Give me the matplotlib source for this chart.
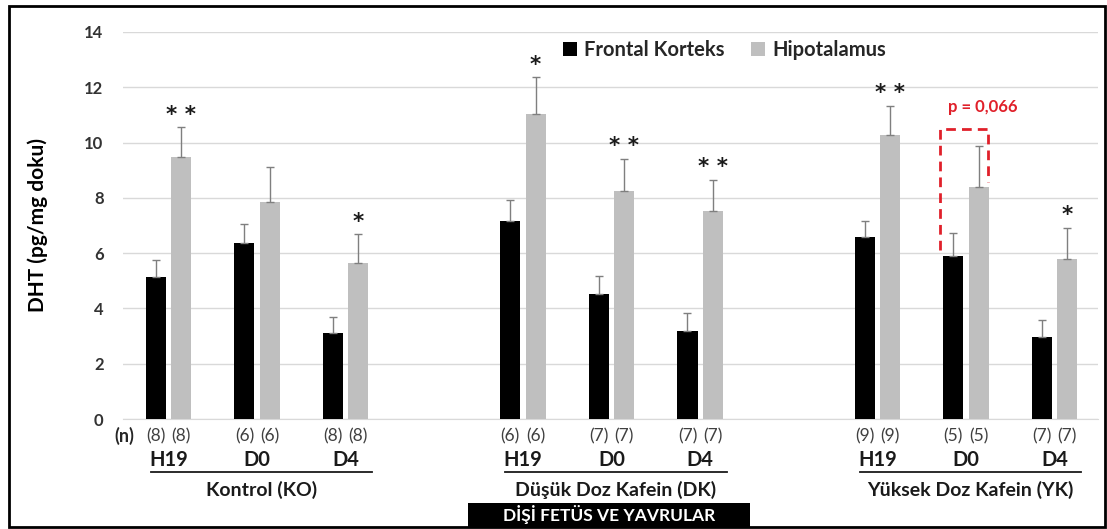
import matplotlib
matplotlib.use("Agg")
import matplotlib.pyplot as plt
from matplotlib.patches import Rectangle
from matplotlib.lines import Line2D
from matplotlib.transforms import blended_transform_factory
import numpy as np

plt.rcParams['font.family'] = ['Lato', 'DejaVu Sans']

# ---- data ----
groups = ["Kontrol (KO)", "Düşük Doz Kafein (DK)", "Yüksek Doz Kafein (YK)"]
days = ["H19", "D0", "D4"]
series_names = ["Frontal Korteks", "Hipotalamus"]

frontal_mean = [5.15, 6.36, 3.11, 7.17, 4.52, 3.18, 6.60, 5.90, 2.96]
frontal_err = [0.62, 0.68, 0.59, 0.75, 0.65, 0.65, 0.56, 0.84, 0.63]
hipo_mean = [9.49, 7.85, 5.63, 11.02, 8.26, 7.51, 10.29, 8.38, 5.80]
hipo_err = [1.07, 1.25, 1.05, 1.34, 1.15, 1.14, 1.04, 1.50, 1.12]
n_counts = [8, 6, 8, 6, 7, 7, 9, 5, 7]
stars = ["* *", "", "*", "*", "* *", "* *", "* *", "", "*"]

BLACK = "#000000"
GRAY = "#bfbfbf"
ERR = "#7f7f7f"
TXT = "#404040"
RED = "#e0202a"

W, H = 1107, 529
fig = plt.figure(figsize=(W / 100, H / 100), dpi=100)
ax = fig.add_axes([123 / W, 1 - 419 / H, (1098 - 123) / W, (419 - 32) / H])

# one empty slot between the treatment groups
pos = np.array([g * 4 + d for g in range(3) for d in range(3)], dtype=float)
bw = 0.226
off = 0.143

ax.bar(pos - off, frontal_mean, bw, color=BLACK, zorder=3, label=series_names[0])
ax.bar(pos + off, hipo_mean, bw, color=GRAY, zorder=3, label=series_names[1])
ax.errorbar(pos - off, frontal_mean, yerr=[np.zeros(9), frontal_err], fmt="none",
            ecolor=ERR, elinewidth=1, capsize=3.2, capthick=1, zorder=4)
ax.errorbar(pos + off, hipo_mean, yerr=[np.zeros(9), hipo_err], fmt="none",
            ecolor=ERR, elinewidth=1, capsize=3.2, capthick=1, zorder=4)

# significance marks above Hipotalamus bars
for x, m, e, s in zip(pos + off, hipo_mean, hipo_err, stars):
    if s:
        ax.text(x, m + e + 0.45, s, ha="center", va="center", fontsize=15.5,
                fontweight="bold", color="#1a1a1a", zorder=5,
                family="DejaVu Sans")

ax.set_xlim(-0.514, 10.49)
ax.set_ylim(0, 14)
ax.set_yticks(range(0, 15, 2))
ax.set_xticks([])
ax.grid(axis="y", color="#d9d9d9", linewidth=1, zorder=0)
ax.set_axisbelow(True)
for sp in ["top", "right", "left"]:
    ax.spines[sp].set_visible(False)
ax.spines["bottom"].set_color("#d9d9d9")
ax.tick_params(axis="y", length=0, pad=14, labelsize=12, labelcolor="#333333")
for lab in ax.get_yticklabels():
    lab.set_fontweight("bold")
ax.set_ylabel("DHT (pg/mg doku)", fontsize=15, fontweight="bold", labelpad=26)

# legend
leg = ax.legend(loc="upper left", bbox_to_anchor=(0.433, 1.025), ncol=2, frameon=False,
                handlelength=0.7, handleheight=0.7, handletextpad=0.35, columnspacing=1.3,
                prop={"size": 14.5, "weight": "bold"})
for t in leg.get_texts():
    t.set_color("#262626")

# p-value annotation around the YK D0 pair
bx = [8.708, 8.708, 9.25, 9.25]
by = [6.11, 10.49, 10.49, 8.57]
ax.plot(bx, by, color=RED, lw=2, ls=(0, (3.5, 2.2)), zorder=6, solid_capstyle="butt")
ax.text(9.19, 11.3, "p = 0,066", color=RED, fontsize=12, fontweight="bold",
        ha="center", va="center")

# labels under the axis
tr = blended_transform_factory(ax.transData, fig.transFigure)
fy = lambda ypix: 1 - ypix / H
fig.text(124 / W, fy(436), "(n)", ha="center", va="center", fontsize=13,
         fontweight="bold", color="#262626")
for i, x in enumerate(pos):
    for dx in (-off, off):
        fig.text(x + dx, fy(436), f"({n_counts[i]})", transform=tr, ha="center",
                 va="center", fontsize=12.5, color=TXT)
    fig.text(x, fy(460), days[i % 3], transform=tr, ha="center", va="center",
             fontsize=14.5, fontweight="bold", color="#1a1a1a")

for g, name in enumerate(groups):
    x0, x1 = pos[g * 3] - 0.2, pos[g * 3 + 2] + 0.3
    fig.add_artist(Line2D([x0, x1], [fy(472), fy(472)], transform=tr,
                          color="#1a1a1a", lw=1.3))
    fig.text((x0 + x1) / 2, fy(490), name, transform=tr, ha="center", va="center",
             fontsize=14, fontweight="bold", color="#1a1a1a")

# title bar at the bottom
fig.add_artist(Rectangle((468 / W, fy(527)), (750 - 468) / W, (527 - 503) / H,
                         transform=fig.transFigure, facecolor="black", edgecolor="none"))
fig.text(609 / W, fy(515), "DİŞİ FETÜS VE YAVRULAR", ha="center", va="center",
         fontsize=12.5, fontweight="bold", color="white")

# outer frame
fig.add_artist(Rectangle((8.5 / W, fy(526.5)), (1105 - 8.5) / W, (526.5 - 5.5) / H,
                         transform=fig.transFigure, fill=False, edgecolor="black", lw=2))

fig.savefig("out.png", dpi=100)
